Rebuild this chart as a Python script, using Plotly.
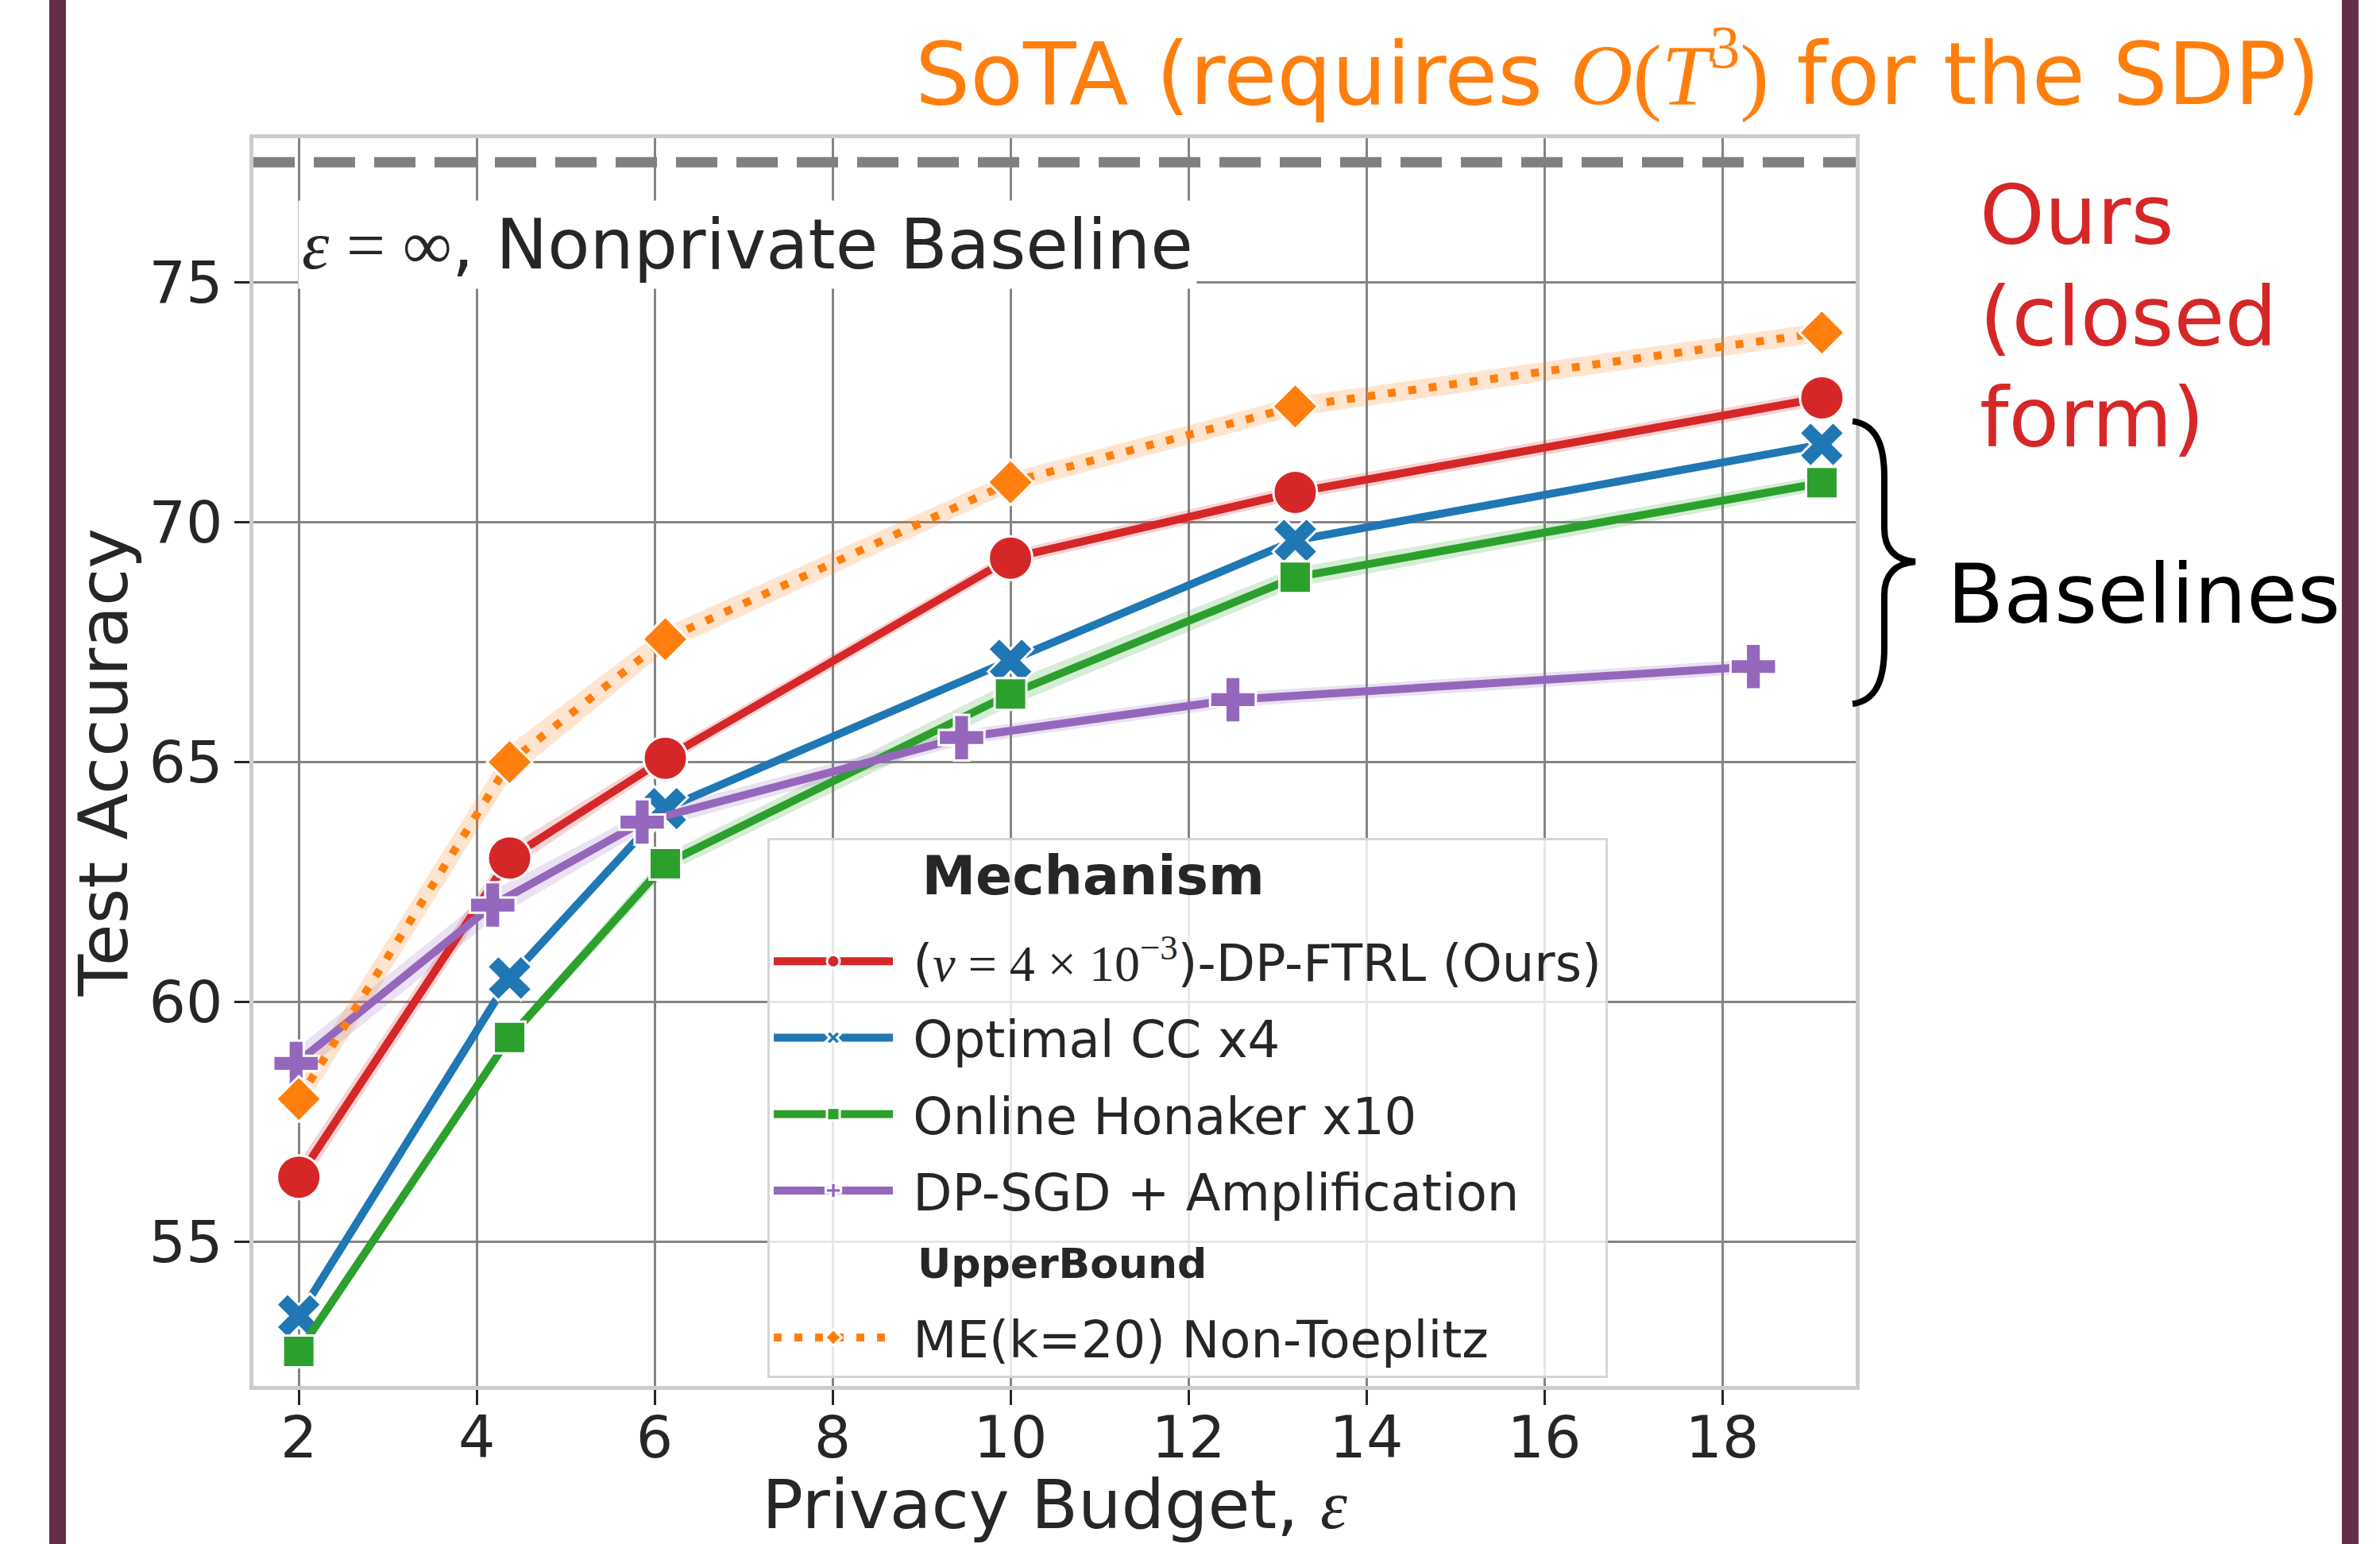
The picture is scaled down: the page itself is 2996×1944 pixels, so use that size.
import plotly.graph_objects as go

# ---------------- data ----------------
EPS = [2.0, 4.37, 6.12, 10.0, 13.2, 19.12]
OURS = [56.35, 63.0, 65.08, 69.25, 70.62, 72.59]
OPTIMAL_CC = [53.46, 60.5, 64.03, 67.12, 69.62, 71.62]
HONAKER = [52.72, 59.26, 62.88, 66.42, 68.85, 70.82]
DPSGD_EPS = [1.97, 4.18, 5.86, 9.45, 12.5, 18.35]
DPSGD = [58.72, 62.02, 63.75, 65.51, 66.3, 66.99]
ME_NONTOEP = [57.98, 65.0, 67.56, 70.83, 72.41, 73.95]

# half-widths of the shaded confidence bands
OURS_CI = [0.3, 0.25, 0.15, 0.15, 0.15, 0.15]
OPTIMAL_CC_CI = [0.08, 0.08, 0.08, 0.06, 0.06, 0.06]
HONAKER_CI = [0.1, 0.12, 0.2, 0.25, 0.2, 0.15]
DPSGD_CI = [0.3, 0.3, 0.2, 0.15, 0.15, 0.15]
ME_CI = [0.35, 0.35, 0.25, 0.2, 0.2, 0.2]

NONPRIVATE_ACC = 77.5

X_TICKS = [2, 4, 6, 8, 10, 12, 14, 16, 18]
Y_TICKS = [55, 60, 65, 70, 75]
X_RANGE = [1.49, 19.5]
Y_RANGE = [52.0, 78.0]

LABELS = [
    '(<span style="font-family:Liberation Serif"><i>ν</i> = 4 × 10<sup>−3</sup></span>)-DP-FTRL (Ours)',
    'Optimal CC x4',
    'Online Honaker x10',
    'DP-SGD + Amplification',
    'ME(k=20) Non-Toeplitz',
]

# ---------------- layout geometry (pixels) ----------------
W, H = 2996, 1944
PL, PR, PT, PB = 319, 2336, 173.5, 1745


def px(x):
    return (x - PL) / (PR - PL)


def py(y):
    return (PB - y) / (PB - PT)


SERIES = [
    dict(x=EPS, y=OURS, ci=OURS_CI, rgb=(214, 39, 40), sym="circle", size=55, dash="solid"),
    dict(x=EPS, y=OPTIMAL_CC, ci=OPTIMAL_CC_CI, rgb=(31, 119, 180), sym="x", size=50, dash="solid"),
    dict(x=EPS, y=HONAKER, ci=HONAKER_CI, rgb=(44, 160, 44), sym="square", size=40, dash="solid"),
    dict(x=DPSGD_EPS, y=DPSGD, ci=DPSGD_CI, rgb=(148, 103, 189), sym="cross", size=48, dash="solid"),
    dict(x=EPS, y=ME_NONTOEP, ci=ME_CI, rgb=(255, 127, 14), sym="diamond", size=44, dash="10px,16px"),
]

NB = "\u00a0"

fig = go.Figure()

# confidence bands first
for s in SERIES:
    up = [v + c for v, c in zip(s["y"], s["ci"])]
    lo = [v - c for v, c in zip(s["y"], s["ci"])]
    r, g, b = s["rgb"]
    fig.add_trace(go.Scatter(
        x=list(s["x"]) + list(s["x"])[::-1],
        y=up + lo[::-1],
        fill="toself", fillcolor=f"rgba({r},{g},{b},0.2)",
        mode="lines", line=dict(width=0), hoverinfo="skip", showlegend=False,
    ))

# main lines
for i, (s, name) in enumerate(zip(SERIES, LABELS)):
    r, g, b = s["rgb"]
    col = f"rgb({r},{g},{b})"
    if i == 4:
        extra = dict(legendgroup="ub",
                     legendgrouptitle=dict(
                         text='<span style="font-size:31px"><sup><span style="font-size:52px"><b>'
                              + NB * 10 + "UpperBound</b></span></sup></span>",
                         font=dict(size=66, color="#262626")))
    else:
        extra = dict(legendgroup=f"m{i}")
    fig.add_trace(go.Scatter(
        x=s["x"], y=s["y"], name=NB + name, mode="lines+markers",
        line=dict(color=col, width=10, dash=s["dash"]),
        marker=dict(symbol=s["sym"], size=s["size"], color=col,
                    line=dict(color="white", width=3)),
        **extra,
    ))

# non-private baseline
fig.add_hline(y=NONPRIVATE_ACC, line=dict(color="#808080", width=13, dash="52px,24px"))

annotations = [
    dict(text='SoTA (requires <span style="font-family:Liberation Serif"><i>O</i>(<i>T</i><sup>3</sup>)</span> for the SDP)',
         x=px(2036), y=py(86), xanchor="center", yanchor="middle",
         font=dict(size=109, color="#ff7f0e")),
    dict(text='<span style="font-family:Liberation Serif"><i>ε</i> = ∞</span>, Nonprivate Baseline',
         x=px(941), y=py(308), xanchor="center", yanchor="middle",
         bgcolor="white", borderpad=4,
         font=dict(size=87, color="#262626")),
    dict(text="Ours", x=px(2490), y=py(271), xanchor="left", yanchor="middle",
         font=dict(size=104, color="#d62728")),
    dict(text="(closed", x=px(2490), y=py(399), xanchor="left", yanchor="middle",
         font=dict(size=104, color="#d62728")),
    dict(text="form)", x=px(2490), y=py(526), xanchor="left", yanchor="middle",
         font=dict(size=104, color="#d62728")),
    dict(text="Baselines", x=px(2449), y=py(748), xanchor="left", yanchor="middle",
         font=dict(size=104, color="black")),
]
for a in annotations:
    a.update(xref="paper", yref="paper", showarrow=False)

# curly brace path (pixel coords -> paper)
brace_pts = [
    ("M", [(2332, 530)]),
    ("C", [(2362, 534), (2372, 560), (2372, 600)]),
    ("L", [(2372, 665)]),
    ("C", [(2372, 690), (2385, 705), (2411, 707)]),
    ("C", [(2385, 709), (2372, 724), (2372, 749)]),
    ("L", [(2372, 815)]),
    ("C", [(2372, 855), (2362, 882), (2332, 886)]),
]
path = " ".join(cmd + " " + " ".join(f"{px(x):.5f},{py(y):.5f}" for x, y in pts) for cmd, pts in brace_pts)

shapes = [
    dict(type="rect", xref="paper", yref="paper", x0=px(62), x1=px(83), y0=py(H + 20), y1=py(-20),
         fillcolor="#662d48", line=dict(width=0), layer="above"),
    dict(type="rect", xref="paper", yref="paper", x0=px(2948), x1=px(2969), y0=py(H + 20), y1=py(-20),
         fillcolor="#662d48", line=dict(width=0), layer="above"),
    dict(type="path", xref="paper", yref="paper", path=path,
         line=dict(color="black", width=8), layer="above"),
]
for sh in shapes:
    fig.add_shape(**sh)

axis_common = dict(
    showgrid=True, gridcolor="#858585", gridwidth=3,
    showline=True, linecolor="#cccccc", linewidth=5, mirror=True,
    ticks="outside", ticklen=19, tickwidth=3, tickcolor="#262626",
    tickfont=dict(size=73, color="#262626"), zeroline=False,
)

fig.update_layout(
    width=W, height=H,
    margin=dict(l=PL, r=W - PR, t=PT, b=H - PB, autoexpand=False),
    paper_bgcolor="white", plot_bgcolor="white",
    font=dict(family="DejaVu Sans", color="#262626"),
    xaxis=dict(range=X_RANGE, tickvals=X_TICKS, ticklabelstandoff=-22,
               title=dict(text='Privacy Budget, <span style="font-family:Liberation Serif"><i>ε</i></span>',
                          font=dict(size=86, color="#262626"), standoff=30),
               **axis_common),
    yaxis=dict(range=Y_RANGE, tickvals=Y_TICKS,
               title=dict(text="Test Accuracy", font=dict(size=86, color="#262626"), standoff=0),
               **axis_common),
    legend=dict(
        x=px(966), y=py(1055), xanchor="left", yanchor="top",
        bgcolor="rgba(255,255,255,0.8)", bordercolor="#d6d6d6", borderwidth=3,
        font=dict(size=64, color="#262626"),
        title=dict(text='<span style="font-size:86px"><sup><span style="font-size:68px"><b>'
                        + NB * 8 + "Mechanism</b></span></sup></span>",
                   font=dict(size=80, color="#262626")),
        itemwidth=150, tracegroupgap=10, traceorder="grouped",
    ),
    annotations=annotations,
    showlegend=True,
)

fig.write_html("out.html")
